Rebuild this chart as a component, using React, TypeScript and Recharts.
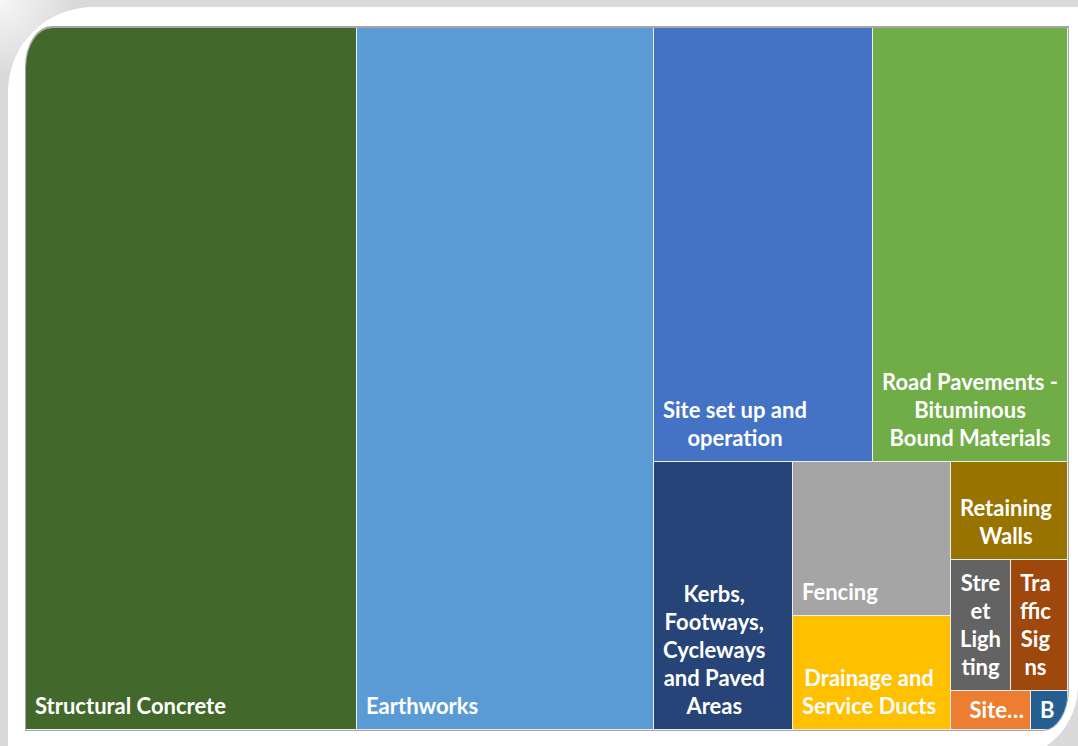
import React from "react"
import { Treemap } from "recharts"

// cost categories, largest first (Excel treemap order)
const categories = [
  "Structural Concrete",
  "Earthworks",
  "Site set up and operation",
  "Road Pavements - Bituminous Bound Materials",
  "Kerbs, Footways, Cycleways and Paved Areas",
  "Fencing",
  "Drainage and Service Ducts",
  "Retaining Walls",
  "Street Lighting",
  "Traffic Signs",
  "Site…",
  "B",
]

const costs = [23236, 20849, 9505, 8463, 3725, 2433, 1801, 1147, 786, 747, 312, 144]

// label text as Excel wraps it
const labelLines = [
  ["Structural Concrete"],
  ["Earthworks"],
  ["Site set up and", "operation"],
  ["Road Pavements -", "Bituminous", "Bound Materials"],
  ["Kerbs,", "Footways,", "Cycleways", "and Paved", "Areas"],
  ["Fencing"],
  ["Drainage and", "Service Ducts"],
  ["Retaining", "Walls"],
  ["Stre", "et", "Ligh", "ting"],
  ["Tra", "ffic", "Sig", "ns"],
  ["Site…"],
  ["B"],
]

const colors = [
  "#43682b", "#5b9bd5", "#4472c4", "#70ad47", "#264478", "#a5a5a5",
  "#ffc000", "#997300", "#636363", "#9e480e", "#ed7d31", "#255e91",
]

// grouping of the categories (indices) so squarify splits like Excel
const groups: any = [[0, 1], [[2, 3], [4, [[5, 6], [7, [[8, 9], [10, 11]]]]]]]

const build = (node: any): any =>
  typeof node === "number"
    ? { name: categories[node], value: costs[node], idx: node }
    : { name: "", children: node.map(build) }

const data = groups.map(build)

const FONT = "bold 22px Lato"
let ctx: CanvasRenderingContext2D | null = null
const measure = (t: string) => {
  if (!ctx) {
    ctx = document.createElement("canvas").getContext("2d")
    if (ctx) ctx.font = FONT
  }
  return ctx ? ctx.measureText(t).width : t.length * 11
}

function renderCell(props: any) {
  const { x, y, width, height, idx, children } = props
  if ((children && children.length) || idx === undefined) return <g />
  const lines = labelLines[idx]
  const w = width - 1
  const h = height - 1
  const lh = 28
  const blockW = Math.max(...lines.map(measure))
  const first = Math.max(y + h - 15 - lh * (lines.length - 1), y + 27)
  const truncated = lines[0].endsWith("…")
  const cx = truncated ? x + w - 6 - blockW / 2 : x + 9 + blockW / 2
  return (
    <g>
      <rect x={x} y={y} width={w} height={h} fill={colors[idx]} />
      <text fill="#ffffff" textAnchor="middle" style={{ font: FONT }}>
        {lines.map((l: string, i: number) => (
          <tspan key={i} x={cx} y={first + i * lh}>
            {l}
          </tspan>
        ))}
      </text>
    </g>
  )
}

export default function App() {
  return (
    <div
      style={{
        position: "absolute",
        left: 0,
        top: 0,
        width: 1078,
        height: 746,
        overflow: "hidden",
        background:
          "radial-gradient(circle at 0 0, #f7f7f7 0px, #dadada 75px)",
      }}
    >
      <div
        style={{
          position: "absolute",
          left: 8,
          top: 7,
          width: 1070,
          height: 753,
          background: "#ffffff",
          borderTopLeftRadius: 85,
          borderBottomRightRadius: 75,
        }}
      />
      <div
        style={{
          position: "absolute",
          left: 25,
          top: 26,
          width: 1042,
          height: 702,
          border: "1px solid #a6a6a6",
          borderTopWidth: 2,
          borderRadius: "27px 0 26px 0 / 41px 0 42px 0",
          overflow: "hidden",
          background: "#eeeeee",
        }}
      >
        <Treemap
          width={1042}
          height={702}
          data={data}
          dataKey="value"
          aspectRatio={1.186}
          isAnimationActive={false}
          content={renderCell}
        />
      </div>
    </div>
  )
}
